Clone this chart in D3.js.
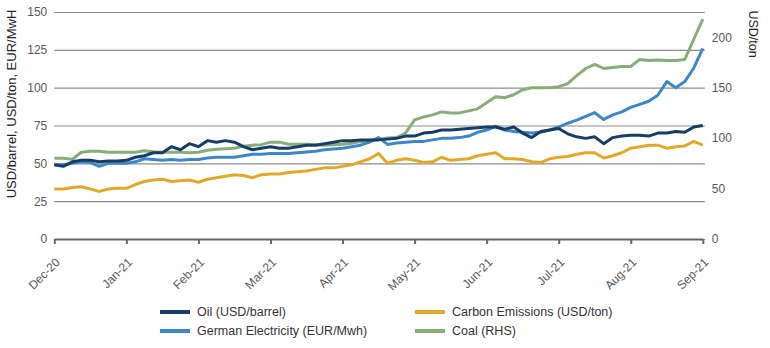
<!DOCTYPE html>
<html>
<head>
<meta charset="utf-8">
<script src="https://cdn.jsdelivr.net/npm/d3@7"></script>
<style>
  body { margin: 0; background: #fff; }
  text { font-family: "Liberation Sans", Arial, sans-serif; }
</style>
</head>
<body>
<script>
// month labels on the x axis, one per tick
var monthLabels = ["Dec-20", "Jan-21", "Feb-21", "Mar-21", "Apr-21", "May-21",
    "Jun-21", "Jul-21", "Aug-21", "Sep-21"];
var leftTicks = [0, 25, 50, 75, 100, 125, 150];
var rightTicks = [0, 50, 100, 150, 200];

// samples are 1/8 of a month apart
var step = 1 / 8;

var oil = [49, 48, 51, 52, 52, 51, 51.5, 51.5,
    52, 54, 55, 57, 57, 61, 59, 63,
    61, 65, 64, 65, 64, 61, 59, 60,
    61, 60, 60, 61, 62, 62, 63, 64,
    65, 65, 65.5, 65.5, 65.5, 66, 66.5, 68,
    68, 70, 70.5, 72, 72, 72.5, 73, 73.5,
    74, 74, 72.5, 74, 70, 67, 71, 72,
    73, 69.5, 67.5, 66.5, 67.5, 63, 67, 68,
    68.5, 68.5, 68, 70, 70, 71, 70.5, 74,
    75];

var carbon = [33, 33, 34, 34.5, 33, 31.5, 33, 33.5,
    33.5, 36, 38, 39, 39.5, 38, 38.5, 39,
    37.5, 39.5, 40.5, 41.5, 42.5, 42, 40.5, 42.5,
    43, 43, 44, 44.5, 45, 46, 47, 47,
    48, 49, 51, 53, 56.5, 50, 52, 53,
    52, 50.5, 51, 54, 52, 52.5, 53, 55,
    56, 57, 53, 53, 52.5, 51, 50.5, 53,
    54, 54.5, 56, 57, 57, 53.5, 55, 57,
    60, 61, 62, 62, 60, 61, 61.5, 64.5,
    62];

var electricity = [49, 49, 50, 51, 50.5, 48, 50, 50,
    50, 51, 53, 52.5, 52, 52.5, 52, 52.5,
    52.5, 53.5, 54, 54, 54, 55, 56, 56,
    56.5, 56.5, 56.5, 57, 57.5, 58, 59, 59.5,
    60, 61, 62, 64, 67, 62.5, 63.5, 64,
    64.5, 64.5, 65.5, 66.5, 66.5, 67, 68, 70.5,
    72, 74.5, 72, 71, 70.5, 70, 70.5, 72,
    74, 76.5, 78.5, 81, 83.5, 79, 82, 84,
    87, 89, 91, 95, 104, 100, 104, 113,
    126];

// coal is read against the right-hand axis
var coal = [80, 80, 79, 86, 87, 87, 86, 86,
    86, 86, 87.5, 86.5, 86, 86, 86, 85.5,
    86, 88, 89, 89.5, 90, 92, 93, 93.5,
    96, 96, 94, 94, 94, 93.5, 93, 93.5,
    94, 95, 96.5, 97.5, 99, 100, 100.5, 105,
    118, 121, 123, 126, 125, 125, 127, 129,
    135, 141, 140, 143, 148, 150, 150, 150,
    151, 154, 162, 169, 173, 169, 170, 171,
    171, 178, 177, 177.5, 177, 177, 178, 198,
    218];

function createLineChart(){
    var w = 770, h = 348;
    var left = 54.3, right = 702.8, top = 12, bottom = 239;

    var svg = d3.select("body")
                .append("svg")
                .attr("width", w)
                .attr("height", h);

    var x = d3.scaleLinear()
                .domain([0, monthLabels.length - 1])
                .range([left, right]);

    var yLeft = d3.scaleLinear().domain([0, 150]).range([bottom, top]);
    var yRight = d3.scaleLinear().domain([0, 225]).range([bottom, top]);

    // gridlines + left labels
    var gLeft = svg.append("g")
                    .attr("transform", "translate(" + left + ",0)")
                    .call(d3.axisLeft(yLeft)
                            .tickValues(leftTicks)
                            .tickSize(-(right - left + 2))
                            .tickPadding(7));
    gLeft.select(".domain").remove();
    gLeft.selectAll("line").attr("stroke", "#8c8c8c").attr("stroke-width", 1.2);
    gLeft.selectAll("text")
         .attr("fill", "#595959")
         .style("font-size", "12px");

    var gRight = svg.append("g")
                    .attr("transform", "translate(" + right + ",0)")
                    .call(d3.axisRight(yRight)
                            .tickValues(rightTicks)
                            .tickSize(0)
                            .tickPadding(9));
    gRight.select(".domain").remove();
    gRight.selectAll("text")
          .attr("fill", "#595959")
          .style("font-size", "12px");

    var gX = svg.append("g")
                .attr("transform", "translate(0," + bottom + ")")
                .call(d3.axisBottom(x)
                        .tickValues(d3.range(monthLabels.length))
                        .tickFormat(function(i){ return monthLabels[i]; })
                        .tickSize(5)
                        .tickSizeOuter(0));
    gX.select(".domain").attr("stroke", "#666").attr("stroke-width", 2);
    gX.selectAll("line").attr("stroke", "#666").attr("stroke-width", 2);
    gX.selectAll("text")
      .attr("x", 0).attr("y", 0).attr("dy", 0)
      .attr("text-anchor", "end")
      .attr("transform", "translate(6,24) rotate(-45)")
      .attr("fill", "#595959")
      .style("font-size", "12px");

    // axis titles
    svg.append("text")
        .attr("transform", "translate(16,104) rotate(-90)")
        .attr("text-anchor", "middle")
        .attr("fill", "#222")
        .style("font-size", "13px")
        .text("USD/barrel, USD/ton, EUR/MwH");

    svg.append("text")
        .attr("transform", "translate(749,34) rotate(90)")
        .attr("text-anchor", "middle")
        .attr("fill", "#222")
        .style("font-size", "12.5px")
        .text("USD/ton");

    var series = [
        {name: "Coal (RHS)", values: coal, color: "#87ad7a", y: yRight},
        {name: "Carbon Emissions (USD/ton)", values: carbon, color: "#e1a92a", y: yLeft},
        {name: "German Electricity (EUR/Mwh)", values: electricity, color: "#3d87c6", y: yLeft},
        {name: "Oil (USD/barrel)", values: oil, color: "#173d66", y: yLeft}
    ];

    series.forEach(function(s){
        var line = d3.line()
                    .x(function(d, i){ return x(i * step); })
                    .y(function(d){ return s.y(d); });
        svg.append("path")
            .datum(s.values)
            .attr("fill", "none")
            .attr("stroke", s.color)
            .attr("stroke-width", 3)
            .attr("stroke-linejoin", "round")
            .attr("d", line);
    });

    // legend, two columns
    var legendOrder = [series[3], series[1], series[2], series[0]];
    var legend = svg.append("g")
                    .selectAll("g")
                    .data(legendOrder)
                    .enter()
                    .append("g")
                    .attr("transform", function(d, i){
                        return "translate(" + (i % 2 ? 415 : 160) + "," + (i < 2 ? 312 : 331) + ")";
                    });
    legend.append("line")
          .attr("x1", 0).attr("x2", 30)
          .attr("stroke", function(d){ return d.color; })
          .attr("stroke-width", 4);
    legend.append("text")
          .attr("x", 37)
          .attr("dy", "0.35em")
          .attr("fill", "#333")
          .style("font-size", "12.5px")
          .text(function(d){ return d.name; });
}

createLineChart();
</script>
</body>
</html>
